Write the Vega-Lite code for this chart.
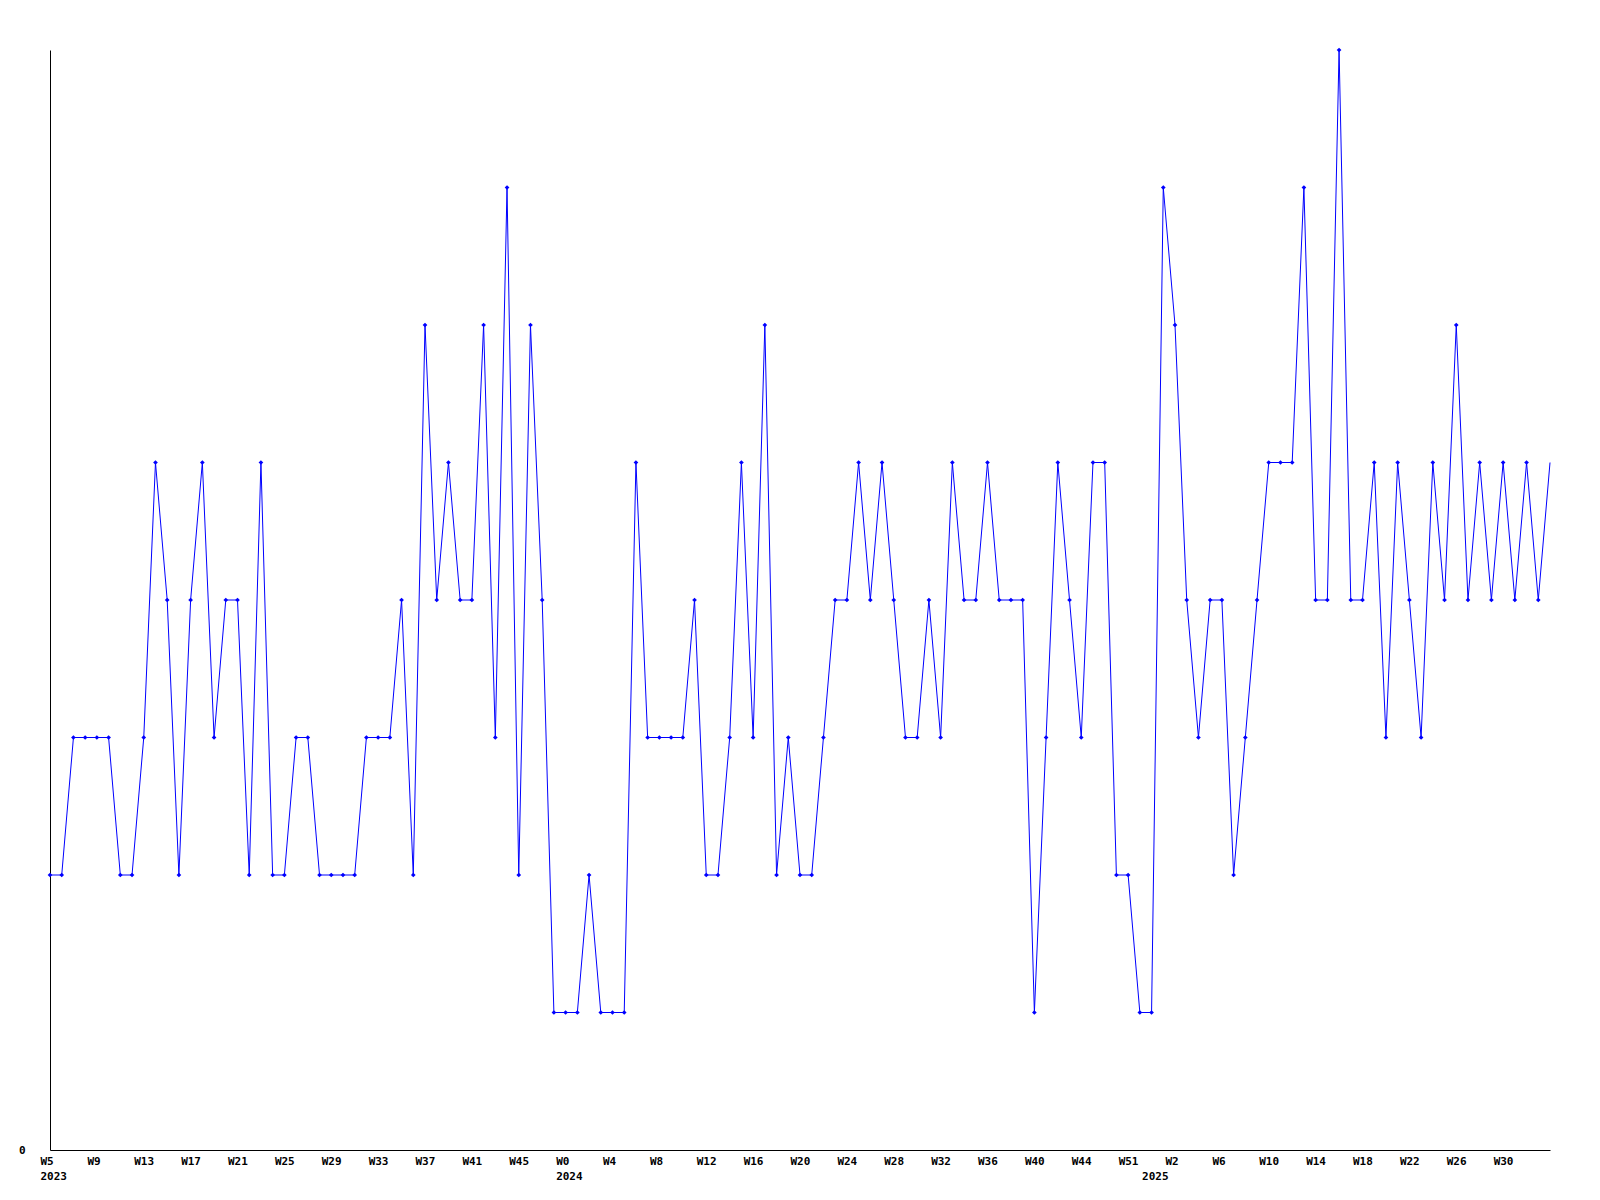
{
  "$schema": "https://vega.github.io/schema/vega-lite/v6.json",
  "width": 1500,
  "height": 1100,
  "autosize": {"type": "none"},
  "padding": {"left": 50, "top": 50, "right": 50, "bottom": 50},
  "background": "white",
  "config": {
    "view": {"stroke": null},
    "axis": {
      "grid": false,
      "ticks": false,
      "domainColor": "black",
      "domainWidth": 1,
      "labelFont": "DejaVu Sans Mono",
      "labelFontWeight": "bold",
      "labelFontSize": 11,
      "labelColor": "black",
      "title": null
    }
  },
  "data": {
    "values": [
      {"i":0,"v":2},{"i":1,"v":2},{"i":2,"v":3},{"i":3,"v":3},{"i":4,"v":3},{"i":5,"v":3},{"i":6,"v":2},{"i":7,"v":2},{"i":8,"v":3},{"i":9,"v":5},
      {"i":10,"v":4},{"i":11,"v":2},{"i":12,"v":4},{"i":13,"v":5},{"i":14,"v":3},{"i":15,"v":4},{"i":16,"v":4},{"i":17,"v":2},{"i":18,"v":5},{"i":19,"v":2},
      {"i":20,"v":2},{"i":21,"v":3},{"i":22,"v":3},{"i":23,"v":2},{"i":24,"v":2},{"i":25,"v":2},{"i":26,"v":2},{"i":27,"v":3},{"i":28,"v":3},{"i":29,"v":3},
      {"i":30,"v":4},{"i":31,"v":2},{"i":32,"v":6},{"i":33,"v":4},{"i":34,"v":5},{"i":35,"v":4},{"i":36,"v":4},{"i":37,"v":6},{"i":38,"v":3},{"i":39,"v":7},
      {"i":40,"v":2},{"i":41,"v":6},{"i":42,"v":4},{"i":43,"v":1},{"i":44,"v":1},{"i":45,"v":1},{"i":46,"v":2},{"i":47,"v":1},{"i":48,"v":1},{"i":49,"v":1},
      {"i":50,"v":5},{"i":51,"v":3},{"i":52,"v":3},{"i":53,"v":3},{"i":54,"v":3},{"i":55,"v":4},{"i":56,"v":2},{"i":57,"v":2},{"i":58,"v":3},{"i":59,"v":5},
      {"i":60,"v":3},{"i":61,"v":6},{"i":62,"v":2},{"i":63,"v":3},{"i":64,"v":2},{"i":65,"v":2},{"i":66,"v":3},{"i":67,"v":4},{"i":68,"v":4},{"i":69,"v":5},
      {"i":70,"v":4},{"i":71,"v":5},{"i":72,"v":4},{"i":73,"v":3},{"i":74,"v":3},{"i":75,"v":4},{"i":76,"v":3},{"i":77,"v":5},{"i":78,"v":4},{"i":79,"v":4},
      {"i":80,"v":5},{"i":81,"v":4},{"i":82,"v":4},{"i":83,"v":4},{"i":84,"v":1},{"i":85,"v":3},{"i":86,"v":5},{"i":87,"v":4},{"i":88,"v":3},{"i":89,"v":5},
      {"i":90,"v":5},{"i":91,"v":2},{"i":92,"v":2},{"i":93,"v":1},{"i":94,"v":1},{"i":95,"v":7},{"i":96,"v":6},{"i":97,"v":4},{"i":98,"v":3},{"i":99,"v":4},
      {"i":100,"v":4},{"i":101,"v":2},{"i":102,"v":3},{"i":103,"v":4},{"i":104,"v":5},{"i":105,"v":5},{"i":106,"v":5},{"i":107,"v":7},{"i":108,"v":4},{"i":109,"v":4},
      {"i":110,"v":8},{"i":111,"v":4},{"i":112,"v":4},{"i":113,"v":5},{"i":114,"v":3},{"i":115,"v":5},{"i":116,"v":4},{"i":117,"v":3},{"i":118,"v":5},{"i":119,"v":4},
      {"i":120,"v":6},{"i":121,"v":4},{"i":122,"v":5},{"i":123,"v":4},{"i":124,"v":5},{"i":125,"v":4},{"i":126,"v":5},{"i":127,"v":4},{"i":128,"v":5}
    ]
  },
  "encoding": {
    "x": {
      "field": "i",
      "type": "quantitative",
      "scale": {"domain": [0, 128], "nice": false, "zero": false},
      "axis": {
        "values": [0, 4, 8, 12, 16, 20, 24, 28, 32, 36, 40, 44, 48, 52, 56, 60, 64, 68, 72, 76, 80, 84, 88, 92, 94, 96, 100, 104, 108, 112, 116, 120, 124],
        "labelExpr": "datum.value == 94 ? ['\u00a0','2025'] : [['W5','2023'],'W9','W13','W17','W21','W25','W29','W33','W37','W41','W45',['W0','2024'],'W4','W8','W12','W16','W20','W24','W28','W32','W36','W40','W44','W51','W2','W6','W10','W14','W18','W22','W26','W30'][round(datum.value / 4)]",
        "labelAlign": "left",
        "labelBaseline": "top",
        "labelOffset": -10,
        "labelPadding": 5,
        "labelLineHeight": 15,
        "labelOverlap": false,
        "labelFlush": false
      }
    },
    "y": {
      "field": "v",
      "type": "quantitative",
      "scale": {"domain": [0, 8], "nice": false, "zero": true},
      "axis": {"values": [0], "labelPadding": 25, "labelFlush": false}
    }
  },
  "layer": [
    {"mark": {"type": "line", "color": "#0000ff", "strokeWidth": 1}},
    {
      "transform": [{"filter": "datum.i < 128"}],
      "mark": {"type": "point", "shape": "diamond", "filled": true, "color": "#0000ff", "size": 22, "opacity": 1}
    }
  ]
}
